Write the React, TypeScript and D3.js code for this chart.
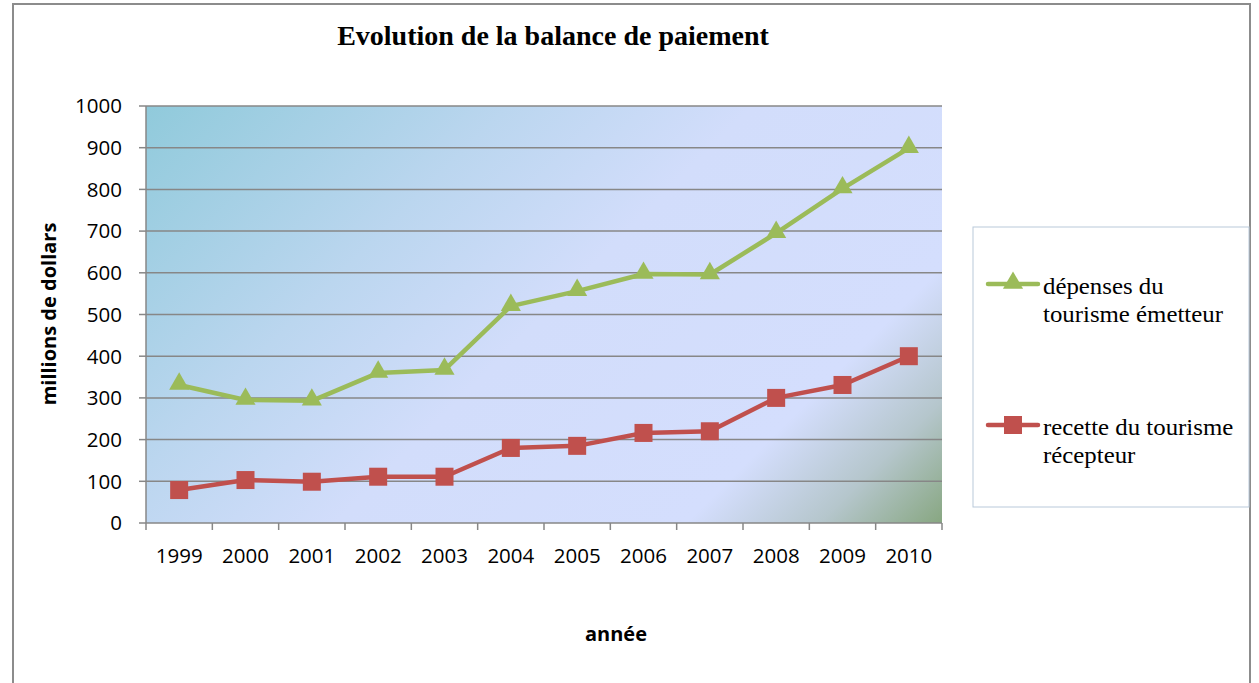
import React from "react";
import * as d3 from "d3";

const years = ["1999","2000","2001","2002","2003","2004","2005","2006","2007","2008","2009","2010"];
const depenses = [331, 295, 293, 360, 367, 520, 556, 597, 596, 695, 802, 899];
const recettes = [79, 103, 99, 111, 111, 180, 185, 216, 220, 300, 331, 400];
const yTicks = [0, 100, 200, 300, 400, 500, 600, 700, 800, 900, 1000];
const seriesNames = ["dépenses du|tourisme émetteur", "recette du tourisme|récepteur"];
const title = "Evolution de la balance de paiement";
const yTitle = "millions de dollars";
const xTitle = "année";

const W = 1259, H = 683;
const L = 146, R = 942, T = 106, B = 523;
const GREEN = "#9bbb59", RED = "#c0504d", GRID = "#878787";

export default function App() {
  const x = d3.scaleBand<string>().domain(years).range([L, R]).padding(0);
  const y = d3.scaleLinear().domain([0, 1000]).range([B, T]);
  const cx = (yr: string) => (x(yr) as number) + x.bandwidth() / 2;
  const line = d3.line<number>().x((_, i) => cx(years[i])).y(d => y(d));
  const tri = d3.symbol().type(d3.symbolTriangle).size(175)();
  const sans = "'Open Sans', sans-serif";
  const serif = "'Liberation Serif', 'Times New Roman', serif";

  return (
    <svg width={W} height={H} style={{ position: "absolute", left: 0, top: 0, display: "block" }}>
      <defs>
        <linearGradient id="bg" gradientUnits="userSpaceOnUse" x1={L} y1={T} x2={752} y2={712}>
          <stop offset="0" stopColor="#90cadb" />
          <stop offset="0.3" stopColor="#bbd6ef" />
          <stop offset="0.5" stopColor="#d2ddfb" />
          <stop offset="0.79" stopColor="#d4defd" />
          <stop offset="0.9" stopColor="#b5c6cc" />
          <stop offset="1" stopColor="#88a782" />
        </linearGradient>
      </defs>
      <rect x={0} y={0} width={W} height={H} fill="#fff" />
      <rect x={13} y={4} width={1237} height={720} fill="#fff" stroke="#8c8c8c" strokeWidth={2} />
      <text x={553} y={45} textAnchor="middle" fontFamily={serif} fontWeight="bold" fontSize={28}>{title}</text>

      <rect x={L} y={T} width={R - L} height={B - T} fill="url(#bg)" />
      {yTicks.filter(t => t > 0).map(t => (
        <line key={t} x1={L} x2={R} y1={y(t)} y2={y(t)} stroke={GRID} strokeWidth={1.5} />
      ))}
      <line x1={L} x2={L} y1={T} y2={B} stroke={GRID} strokeWidth={1.5} />
      <line x1={L} x2={R} y1={B} y2={B} stroke={GRID} strokeWidth={1.5} />
      {yTicks.map(t => (
        <g key={t}>
          <line x1={L - 7} x2={L} y1={y(t)} y2={y(t)} stroke={GRID} strokeWidth={1.5} />
          <text x={122} y={y(t)} dy="0.36em" textAnchor="end" fontFamily={sans} fontSize={20.5} fill="#000">{t}</text>
        </g>
      ))}
      {[...years.map(yr => x(yr) as number), R].map((v, i) => (
        <line key={i} x1={v} x2={v} y1={B} y2={B + 7} stroke={GRID} strokeWidth={1.5} />
      ))}
      {years.map(yr => (
        <text key={yr} x={cx(yr)} y={563} textAnchor="middle" fontFamily={sans} fontSize={20.5} fill="#000">{yr}</text>
      ))}
      <text transform={`translate(56,314) rotate(-90)`} textAnchor="middle" fontFamily={sans} fontWeight="bold" fontSize={20}>{yTitle}</text>
      <text x={616} y={641} textAnchor="middle" fontFamily={sans} fontWeight="bold" fontSize={20}>{xTitle}</text>

      <path d={line(depenses) as string} fill="none" stroke={GREEN} strokeWidth={4.5} strokeLinejoin="round" />
      {depenses.map((v, i) => (
        <path key={i} d={tri as string} transform={`translate(${cx(years[i])},${y(v) - 1})`} fill={GREEN} />
      ))}
      <path d={line(recettes) as string} fill="none" stroke={RED} strokeWidth={4.5} strokeLinejoin="round" />
      {recettes.map((v, i) => (
        <rect key={i} x={cx(years[i]) - 9} y={y(v) - 9} width={18} height={18} fill={RED} />
      ))}

      <rect x={973} y={227} width={276} height={280} fill="#fff" stroke="#b9c9da" strokeWidth={1} />
      <line x1={988} x2={1038} y1={284} y2={284} stroke={GREEN} strokeWidth={4.5} strokeLinecap="round" />
      <path d={tri as string} transform="translate(1013,283)" fill={GREEN} />
      <line x1={988} x2={1038} y1={425} y2={425} stroke={RED} strokeWidth={4.5} strokeLinecap="round" />
      <rect x={1004} y={416} width={18} height={18} fill={RED} />
      {seriesNames.map((n, k) => (
        <g key={k} transform={`translate(1043,${k === 0 ? 294 : 435}) scale(1.08,1)`}>
          {n.split("|").map((s, j) => (
            <text key={j} x={0} y={j * 28} fontFamily={serif} fontSize={23} fill="#000">{s}</text>
          ))}
        </g>
      ))}
    </svg>
  );
}
